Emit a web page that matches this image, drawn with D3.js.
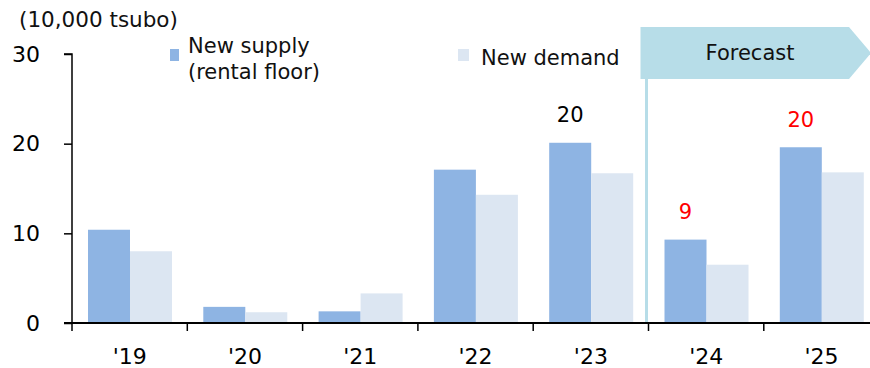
<!DOCTYPE html>
<html>
<head>
<meta charset="utf-8">
<script src="https://cdn.jsdelivr.net/npm/d3@7"></script>
<style>
  html, body { margin: 0; padding: 0; background: #fff; }
  svg { display: block; font-family: "DejaVu Sans", Verdana, sans-serif; }
</style>
</head>
<body>
<svg id="chart" width="870" height="368"></svg>
<script>
// Office space supply / demand (10,000 tsubo)
const years = ["'19", "'20", "'21", "'22", "'23", "'24", "'25"];
const supply = [10.4, 1.8, 1.3, 17.1, 20.1, 9.3, 19.6];
const demand = [8.0, 1.2, 3.3, 14.3, 16.7, 6.5, 16.8];
const seriesNames = ["New supply", "New demand"];
const yTicks = [0, 10, 20, 30];
// Value labels shown above selected supply bars (index, colour)
const labelled = [
  { i: 4, color: "#000" },
  { i: 5, color: "#ff0000" },
  { i: 6, color: "#ff0000" }
];
const forecastStart = "'24";

const colors = { supply: "#8eb4e3", demand: "#dce6f2", forecast: "#b7dde8" };

const svg = d3.select("#chart");
const plotLeft = 72, plotBottom = 323, plotTop = 54, step = 115.3;

const x = d3.scaleBand().domain(years).range([plotLeft, plotLeft + step * years.length]).padding(0);
const inner = d3.scaleBand().domain(["supply", "demand"]).range([16, 100]).padding(0);
const y = d3.scaleLinear().domain([0, 30]).range([plotBottom, plotTop]);

// Forecast banner (arrow shape)
const fx = x(forecastStart) - 8;
const bTop = 27, bBot = 79, bRight = 849, bTip = 871;
svg.append("path")
  .attr("d", `M${fx},${bTop}H${bRight}L${bTip},${(bTop + bBot) / 2}L${bRight},${bBot}H${fx}Z`)
  .attr("fill", colors.forecast);
svg.append("text")
  .attr("x", 750).attr("y", (bTop + bBot) / 2)
  .attr("dy", "0.35em").attr("text-anchor", "middle")
  .attr("font-size", 21).attr("fill", "#111")
  .text("Forecast");

// Forecast divider line
svg.append("line")
  .attr("x1", x(forecastStart) - 2).attr("x2", x(forecastStart) - 2)
  .attr("y1", bBot).attr("y2", plotBottom)
  .attr("stroke", colors.forecast).attr("stroke-width", 3);

// Bars
const rows = years.map((yr, i) => ({ yr, supply: supply[i], demand: demand[i] }));
const g = svg.append("g");
["supply", "demand"].forEach(key => {
  g.selectAll(null).data(rows).join("rect")
    .attr("x", d => x(d.yr) + inner(key))
    .attr("width", inner.bandwidth())
    .attr("y", d => y(d[key]))
    .attr("height", d => y(0) - y(d[key]))
    .attr("fill", colors[key]);
});

// Value labels
svg.selectAll(null).data(labelled).join("text")
  .attr("x", d => x(years[d.i]) + inner("supply") + inner.bandwidth() / 2)
  .attr("y", d => y(supply[d.i]) - 28)
  .attr("dy", "0.35em").attr("text-anchor", "middle")
  .attr("font-size", 21).attr("fill", d => d.color)
  .text(d => d3.format(".0f")(supply[d.i]));

// Y axis
const yAxis = svg.append("g")
  .attr("transform", `translate(${plotLeft},0)`)
  .call(d3.axisLeft(y).tickValues(yTicks).tickSize(8).tickPadding(24).tickFormat(d3.format("d")));
yAxis.select(".domain").attr("d", `M-8,${y(30)}H0V${y(0)}`).attr("stroke", "#000").attr("stroke-width", 1.5);
yAxis.selectAll(".tick line").attr("stroke", "#000").attr("stroke-width", 1.5);
yAxis.selectAll(".tick text").attr("font-size", 22).attr("fill", "#000")
  .attr("font-family", "DejaVu Sans, sans-serif");

// X axis: boundary ticks and centred labels
const xAxis = svg.append("g").attr("transform", `translate(0,${plotBottom})`);
xAxis.append("line")
  .attr("x1", plotLeft - 8).attr("x2", 870)
  .attr("stroke", "#000").attr("stroke-width", 2);
xAxis.selectAll(null).data(years).join("line")
  .attr("x1", d => x(d)).attr("x2", d => x(d))
  .attr("y1", 0).attr("y2", 8)
  .attr("stroke", "#000").attr("stroke-width", 1.5);
const xLabels = svg.append("g")
  .attr("transform", `translate(0,${plotBottom})`)
  .call(d3.axisBottom(x).tickSize(0).tickPadding(25));
xLabels.select(".domain").remove();
xLabels.selectAll(".tick text").attr("font-size", 22).attr("fill", "#000")
  .attr("font-family", "DejaVu Sans, sans-serif");

// Unit label
svg.append("text")
  .attr("x", 19).attr("y", 19).attr("dy", "0.35em")
  .attr("font-size", 21.5).attr("fill", "#111")
  .text("(10,000 tsubo)");

// Legend
const legend = svg.append("g");
legend.append("rect").attr("x", 170).attr("y", 49).attr("width", 9).attr("height", 12).attr("fill", colors.supply);
legend.append("text").attr("x", 188).attr("y", 46).attr("font-size", 21).attr("fill", "#111")
  .attr("dy", "0.35em").text(seriesNames[0]);
legend.append("text").attr("x", 188).attr("y", 72).attr("font-size", 21).attr("fill", "#111")
  .attr("dy", "0.35em").text("(rental floor)");
legend.append("rect").attr("x", 458).attr("y", 49).attr("width", 11).attr("height", 12).attr("fill", colors.demand);
legend.append("text").attr("x", 481).attr("y", 58).attr("font-size", 21).attr("fill", "#111")
  .attr("dy", "0.35em").text(seriesNames[1]);
</script>
</body>
</html>
